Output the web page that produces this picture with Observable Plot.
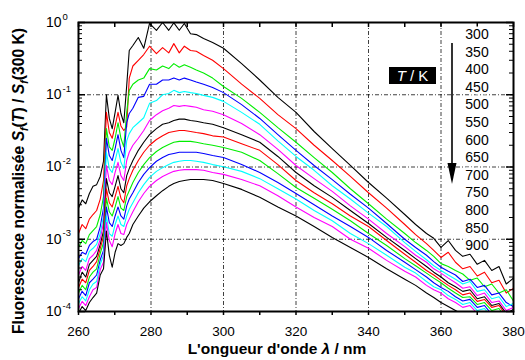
<!DOCTYPE html>
<html><head><meta charset="utf-8">
<script src="https://cdn.jsdelivr.net/npm/d3@7"></script>
<script src="https://cdn.jsdelivr.net/npm/@observablehq/plot@0.6"></script>
<style>
html,body{margin:0;padding:0;background:#fff;}
#chart{width:525px;height:360px;}
</style></head><body><div id="chart"></div>
<script>
// Wavelength grid (nm)
const wavelength = [260, 261, 262, 263, 264, 265, 266,
  266.9, 267.7, 268.5, 269.3, 270.1, 270.9, 271.7, 272.5, 273.3, 274,
  275, 276.5, 278, 279.6, 281.5, 283.2, 284.9, 286.3, 287.8, 289.2, 290.9, 292.5, 294.5, 297, 300,
  305, 310, 315, 320, 325, 330, 335, 340, 345, 350,
  353, 356, 358, 360, 362, 364, 366, 368, 370, 372, 374, 376, 378, 380];

// Normalised fluorescence S_f(T)/S_f(300 K), one array per temperature
const s300 = [2.7e-3, 3.5e-3, 3.1e-3, 4.3e-3, 5.4e-3, 5.7e-3, 7.4e-3,
  1.2e-2, 0.10, 0.047, 0.034, 0.057, 0.098, 0.055, 0.041, 0.134, 0.41,
  0.48, 0.62, 0.44, 0.97, 0.78, 1.0, 0.78, 0.99, 0.78, 0.97, 0.70, 0.68, 0.60, 0.53, 0.44,
  0.27, 0.16, 0.092, 0.057, 0.031, 0.018, 0.0105, 0.0061, 0.0037, 0.0022,
  0.0016, 0.0012, 0.00103, 7.7e-4, 9.6e-4, 7.0e-4, 5.8e-4, 6.2e-4, 4.5e-4, 5.1e-4, 3.7e-4, 4.2e-4, 2.4e-4, 2.9e-4];
const s350 = [1.2e-3, 1.6e-3, 1.4e-3, 1.9e-3, 2.2e-3, 2.5e-3, 3.6e-3,
  6.5e-3, 0.057, 0.030, 0.025, 0.037, 0.057, 0.037, 0.032, 0.036, 0.17,
  0.25, 0.30, 0.36, 0.47, 0.37, 0.45, 0.38, 0.51, 0.38, 0.47, 0.41, 0.40, 0.35, 0.30, 0.23,
  0.14, 0.089, 0.053, 0.034, 0.020, 0.0123, 0.0074, 0.0044, 0.0027, 0.0016,
  1.16e-3, 8.7e-4, 7.0e-4, 5.6e-4, 6.6e-4, 4.8e-4, 3.9e-4, 4.2e-4, 3.1e-4, 3.5e-4, 2.5e-4, 2.7e-4, 1.8e-4, 2.1e-4];
const s400 = [7.7e-4, 9.6e-4, 8.7e-4, 1.16e-3, 1.32e-3, 1.5e-3, 2.2e-3,
  3.9e-3, 0.034, 0.019, 0.017, 0.025, 0.041, 0.025, 0.019, 0.057, 0.115,
  0.14, 0.16, 0.17, 0.23, 0.22, 0.25, 0.23, 0.27, 0.24, 0.26, 0.24, 0.22, 0.20, 0.17, 0.13,
  0.089, 0.057, 0.035, 0.022, 0.0135, 0.0084, 0.0050, 0.0031, 0.0019, 0.0012,
  9.0e-4, 7.0e-4, 5.8e-4, 4.6e-4, 4.2e-4, 3.7e-4, 3.3e-4, 2.7e-4, 2.9e-4, 2.2e-4, 2.4e-4, 1.8e-4, 2.0e-4, 1.4e-4];
const s450 = [5.4e-4, 6.6e-4, 6.2e-4, 8.2e-4, 9.3e-4, 1.0e-3, 1.5e-3,
  2.7e-3, 0.025, 0.0144, 0.0123, 0.018, 0.028, 0.017, 0.0135, 0.041, 0.055,
  0.065, 0.092, 0.095, 0.14, 0.14, 0.16, 0.16, 0.17, 0.16, 0.17, 0.16, 0.15, 0.14, 0.126, 0.107,
  0.073, 0.047, 0.028, 0.017, 0.0105, 0.0067, 0.0042, 0.0027, 1.65e-3, 1.0e-3,
  7.7e-4, 6.0e-4, 4.9e-4, 4.1e-4, 3.6e-4, 3.2e-4, 2.6e-4, 2.8e-4, 2.15e-4, 2.3e-4, 1.7e-4, 1.8e-4, 1.33e-4, 1.17e-4];
const s500 = [4.3e-4, 5.4e-4, 4.9e-4, 6.8e-4, 7.5e-4, 8.5e-4, 1.2e-3,
  2.1e-3, 0.016, 0.0095, 0.0084, 0.0123, 0.018, 0.0116, 0.0095, 0.023, 0.029,
  0.035, 0.041, 0.048, 0.076, 0.083, 0.10, 0.104, 0.115, 0.107, 0.111, 0.107, 0.104, 0.098, 0.092, 0.081,
  0.057, 0.039, 0.023, 0.014, 0.0090, 0.0055, 0.0036, 0.0023, 0.0015, 9.0e-4,
  6.8e-4, 5.2e-4, 4.3e-4, 3.7e-4, 3.2e-4, 2.8e-4, 2.4e-4, 2.6e-4, 1.9e-4, 2.0e-4, 1.5e-4, 1.6e-4, 1.17e-4, 1.29e-4];
const s550 = [3.2e-4, 4.2e-4, 3.7e-4, 5.4e-4, 6.0e-4, 7.0e-4, 1.0e-3,
  1.7e-3, 0.0105, 0.0065, 0.0057, 0.0084, 0.0116, 0.0076, 0.0065, 0.0123, 0.016,
  0.020, 0.025, 0.032, 0.044, 0.053, 0.060, 0.065, 0.071, 0.069, 0.071, 0.069, 0.067, 0.062, 0.059, 0.053,
  0.040, 0.028, 0.0175, 0.0105, 0.0069, 0.0046, 0.0029, 0.0019, 0.0012, 7.9e-4,
  6.0e-4, 4.8e-4, 3.9e-4, 3.4e-4, 2.9e-4, 2.5e-4, 2.1e-4, 2.2e-4, 1.66e-4, 1.8e-4, 1.33e-4, 1.4e-4, 1.03e-4, 1.14e-4];
const s600 = [2.5e-4, 3.5e-4, 3.0e-4, 4.5e-4, 5.1e-4, 5.8e-4, 8.5e-4,
  1.3e-3, 0.0069, 0.0044, 0.0039, 0.0054, 0.0076, 0.0050, 0.0044, 0.0076, 0.0095,
  0.0123, 0.017, 0.022, 0.028, 0.034, 0.039, 0.041, 0.044, 0.046, 0.046, 0.044, 0.043, 0.041, 0.039, 0.035,
  0.028, 0.022, 0.014, 0.0084, 0.0055, 0.0038, 0.0025, 0.00165, 0.00106, 7.0e-4,
  5.4e-4, 4.2e-4, 3.5e-4, 3.0e-4, 2.5e-4, 2.2e-4, 1.9e-4, 2.0e-4, 1.5e-4, 1.6e-4, 1.21e-4, 1.29e-4, 9.4e-5, 1.07e-4];
const s650 = [2.15e-4, 2.8e-4, 2.5e-4, 3.7e-4, 4.2e-4, 4.9e-4, 7.5e-4,
  1.1e-3, 0.0050, 0.0032, 0.0028, 0.0039, 0.0054, 0.0037, 0.0032, 0.0055, 0.0069,
  0.0090, 0.0123, 0.016, 0.020, 0.024, 0.027, 0.030, 0.031, 0.032, 0.032, 0.031, 0.030, 0.029, 0.027, 0.026,
  0.021, 0.017, 0.0108, 0.0065, 0.0044, 0.0031, 0.0021, 0.0015, 9.6e-4, 6.2e-4,
  4.8e-4, 3.7e-4, 3.2e-4, 2.7e-4, 2.3e-4, 2.0e-4, 1.7e-4, 1.8e-4, 1.38e-4, 1.47e-4, 1.14e-4, 1.21e-4, 8.8e-5, 1.0e-4];
const s700 = [1.8e-4, 2.3e-4, 2.0e-4, 3.0e-4, 3.5e-4, 3.9e-4, 6.4e-4,
  9.0e-4, 0.0037, 0.0024, 0.0021, 0.0028, 0.0039, 0.0027, 0.0025, 0.0039, 0.0047,
  0.0061, 0.0084, 0.0108, 0.0135, 0.0164, 0.0186, 0.0205, 0.022, 0.0226, 0.0226, 0.0226, 0.022, 0.021, 0.020, 0.0186,
  0.016, 0.0123, 0.0081, 0.0052, 0.0037, 0.0026, 0.0018, 0.0012, 8.2e-4, 5.4e-4,
  4.3e-4, 3.4e-4, 2.9e-4, 2.5e-4, 2.1e-4, 1.8e-4, 1.56e-4, 1.6e-4, 1.25e-4, 1.33e-4, 1.03e-4, 1.1e-4, 8.0e-5, 9.1e-5];
const s750 = [1.5e-4, 1.9e-4, 1.66e-4, 2.5e-4, 2.8e-4, 3.2e-4, 5.2e-4,
  7.0e-4, 0.0028, 0.0017, 0.0015, 0.0021, 0.0028, 0.0021, 0.0019, 0.0029, 0.0036,
  0.0044, 0.0061, 0.0079, 0.0098, 0.012, 0.0135, 0.0149, 0.0154, 0.016, 0.016, 0.016, 0.016, 0.0154, 0.0144, 0.0135,
  0.0108, 0.0084, 0.0061, 0.0043, 0.0030, 0.0021, 0.0015, 0.00106, 7.0e-4, 4.8e-4,
  3.8e-4, 3.0e-4, 2.5e-4, 2.15e-4, 1.9e-4, 1.6e-4, 1.4e-4, 1.47e-4, 1.14e-4, 1.21e-4, 9.1e-5, 1.0e-4, 7.3e-5, 8.3e-5];
const s800 = [1.29e-4, 1.6e-4, 1.4e-4, 2.0e-4, 2.4e-4, 2.6e-4, 4.5e-4,
  6.0e-4, 0.0021, 0.0012, 0.0011, 0.0016, 0.0021, 0.0016, 0.0015, 0.0021, 0.0026,
  0.0032, 0.0044, 0.0057, 0.0072, 0.0087, 0.0098, 0.0108, 0.0116, 0.012, 0.0123, 0.0123, 0.012, 0.0116, 0.0108, 0.0101,
  0.0087, 0.0069, 0.0050, 0.0036, 0.0025, 0.0018, 0.0012, 8.7e-4, 6.0e-4, 4.1e-4,
  3.4e-4, 2.6e-4, 2.2e-4, 2.0e-4, 1.66e-4, 1.47e-4, 1.25e-4, 1.33e-4, 1.03e-4, 1.1e-4, 8.3e-5, 9.1e-5, 6.6e-5, 7.5e-5];
const s850 = [1.1e-4, 1.38e-4, 1.21e-4, 1.6e-4, 2.0e-4, 2.15e-4, 3.8e-4,
  4.8e-4, 0.0017, 9.6e-4, 7.9e-4, 0.0012, 0.0016, 0.0012, 0.00116, 0.0016, 0.0019,
  0.0024, 0.0033, 0.0043, 0.0054, 0.0065, 0.0074, 0.0081, 0.0087, 0.0090, 0.0092, 0.0092, 0.0092, 0.0090, 0.0084, 0.0079,
  0.0067, 0.0055, 0.0040, 0.0028, 0.0020, 0.0015, 0.0010, 7.5e-4, 5.1e-4, 3.6e-4,
  3.0e-4, 2.3e-4, 2.0e-4, 1.8e-4, 1.5e-4, 1.33e-4, 1.14e-4, 1.21e-4, 9.4e-5, 1.0e-4, 7.5e-5, 8.3e-5, 6.0e-5, 6.8e-5];
const s900 = [9.4e-5, 1.17e-4, 1.03e-4, 1.33e-4, 1.56e-4, 1.8e-4, 3.2e-4,
  3.9e-4, 0.0013, 6.0e-4, 4.1e-4, 6.6e-4, 8.7e-4, 8.2e-4, 8.7e-4, 0.00106, 0.0012,
  0.0016, 0.0021, 0.0027, 0.0033, 0.0040, 0.0047, 0.0054, 0.0059, 0.0063, 0.0065, 0.0067, 0.0067, 0.0067, 0.0065, 0.0059,
  0.0049, 0.0038, 0.0028, 0.0021, 0.0015, 0.00106, 7.7e-4, 5.6e-4, 3.9e-4, 2.8e-4,
  2.3e-4, 1.8e-4, 1.56e-4, 1.33e-4, 1.17e-4, 1.03e-4, 9.1e-5, 9.4e-5, 7.5e-5, 8.0e-5, 6.2e-5, 6.8e-5, 5.1e-5, 5.8e-5];

const temperatures = [300, 350, 400, 450, 500, 550, 600, 650, 700, 750, 800, 850, 900];
const curveColors = ["#000000", "#ff0000", "#00ee00", "#0000ff", "#00ffff", "#ff00ff",
                     "#000000", "#ff0000", "#00ee00", "#0000ff", "#00ffff", "#ff00ff", "#000000"];
const xTickLabels = [260, 280, 300, 320, 340, 360, 380];
const xGrid = [280, 300, 320, 340, 360];
const yTickValues = [1e-4, 1e-3, 1e-2, 1e-1, 1];
const yTickExponents = ["-4", "-3", "-2", "-1", "0"];
const yGrid = [1e-1, 1e-2, 1e-3];

const curves = [s300, s350, s400, s450, s500, s550, s600, s650, s700, s750, s800, s850, s900];

const W = 525, H = 360, mL = 78, mR = 12, mT = 22, mB = 49;
const fw = W - mL - mR, fh = H - mT - mB;
const xMinor = d3.range(260, 381, 10);
const yMinor = [];
for (let e = -4; e < 0; e++) for (let k = 2; k <= 9; k++) yMinor.push(k * Math.pow(10, e));

const font = "'Liberation Sans', Arial, Helvetica, sans-serif";

const marks = [
  Plot.ruleX(xGrid, {x: d => d, stroke: "#000", strokeWidth: 0.75, strokeDasharray: "4,2,1,2"}),
  Plot.ruleY(yGrid, {y: d => d, stroke: "#000", strokeWidth: 0.75, strokeDasharray: "4,2,1,2"}),
  ...curves.map((vals, k) => Plot.line(vals, {x: (d, i) => wavelength[i], y: d => d,
      stroke: curveColors[k], strokeWidth: 1.1, clip: true})),
  // ticks
  Plot.tickX(xMinor, {x: d => d, insetBottom: fh - 5, stroke: "#000", strokeWidth: 1.5}),
  Plot.tickX(xMinor, {x: d => d, insetTop: fh, insetBottom: -4, stroke: "#000", strokeWidth: 1.5}),
  Plot.tickY(yTickValues, {y: d => d, insetRight: fw - 7, stroke: "#000", strokeWidth: 1.5}),
  Plot.tickY(yMinor, {y: d => d, insetRight: fw - 4, stroke: "#000", strokeWidth: 1}),
  Plot.tickY(yTickValues, {y: d => d, insetLeft: fw - 7, stroke: "#000", strokeWidth: 1.5}),
  Plot.tickY(yMinor, {y: d => d, insetLeft: fw - 4, stroke: "#000", strokeWidth: 1}),
  Plot.frame({stroke: "#000", strokeWidth: 2}),
  // tick labels
  Plot.text(xTickLabels, {x: d => d, frameAnchor: "bottom", dy: 20, text: d => String(d),
      fontSize: 13.5, lineAnchor: "middle", textAnchor: "middle", fill: "#000"}),
  Plot.text(yTickValues, {y: d => d, frameAnchor: "left", dx: -17, text: () => "10",
      fontSize: 14, lineAnchor: "middle", textAnchor: "end", fill: "#000"}),
  Plot.text(yTickValues, {y: d => d, frameAnchor: "left", dx: -16, dy: -6, text: (d, i) => yTickExponents[i],
      fontSize: 9.5, lineAnchor: "middle", textAnchor: "start", fill: "#000"}),
  // temperature legend
  ...temperatures.map((t, i) => Plot.text([t], {frameAnchor: "top-left", dx: 398.5, dy: 12 + i * 17.6,
      text: d => String(d), fontSize: 14, textAnchor: "middle", lineAnchor: "middle",
      fill: "#000", stroke: "#fff", strokeWidth: 5, paintOrder: "stroke"}))
];

const chart = Plot.plot({
  width: W, height: H,
  marginLeft: mL, marginRight: mR, marginTop: mT, marginBottom: mB,
  x: {domain: [260, 380], axis: null},
  y: {type: "log", domain: [1e-4, 1], axis: null},
  style: {fontFamily: font, background: "#fff", color: "#000", overflow: "visible"},
  marks
});
document.getElementById("chart").appendChild(chart);

const svg = d3.select(chart);
// Y axis title
const yl = svg.append("text")
  .attr("transform", "translate(24,181) rotate(-90)")
  .attr("text-anchor", "middle")
  .attr("font-family", font).attr("font-weight", "bold").attr("font-size", 15.7).attr("fill", "#000");
yl.append("tspan").text("Fluorescence normalisée ");
yl.append("tspan").attr("font-style", "italic").text("S");
yl.append("tspan").attr("font-style", "italic").attr("font-size", 10.5).attr("dy", 4).text("f");
yl.append("tspan").attr("dy", -4).text("(");
yl.append("tspan").attr("font-style", "italic").text("T");
yl.append("tspan").text(") / ");
yl.append("tspan").attr("font-style", "italic").text("S");
yl.append("tspan").attr("font-style", "italic").attr("font-size", 10.5).attr("dy", 4).text("f");
yl.append("tspan").attr("dy", -4).text("(300 K)");

// X axis title
const xl = svg.append("text")
  .attr("x", 277).attr("y", 354)
  .attr("text-anchor", "middle")
  .attr("font-family", font).attr("font-weight", "bold").attr("font-size", 15.5).attr("fill", "#000");
xl.append("tspan").text("L'ongueur d'onde ");
xl.append("tspan").attr("font-style", "italic").text("λ");
xl.append("tspan").text(" / nm");

// T / K box
svg.append("rect").attr("x", 389).attr("y", 67).attr("width", 47).attr("height", 17).attr("fill", "#000");
const tk = svg.append("text").attr("x", 412.5).attr("y", 81).attr("text-anchor", "middle")
  .attr("font-family", font).attr("font-size", 15).attr("fill", "#fff");
tk.append("tspan").attr("font-style", "italic").text("T");
tk.append("tspan").text(" / K");

// Arrow
svg.append("line").attr("x1", 452).attr("x2", 452).attr("y1", 43).attr("y2", 166)
  .attr("stroke", "#000").attr("stroke-width", 1.6);
svg.append("path").attr("d", "M447.5,163 L456.5,163 L452,184 Z").attr("fill", "#000");
</script>
</body></html>
